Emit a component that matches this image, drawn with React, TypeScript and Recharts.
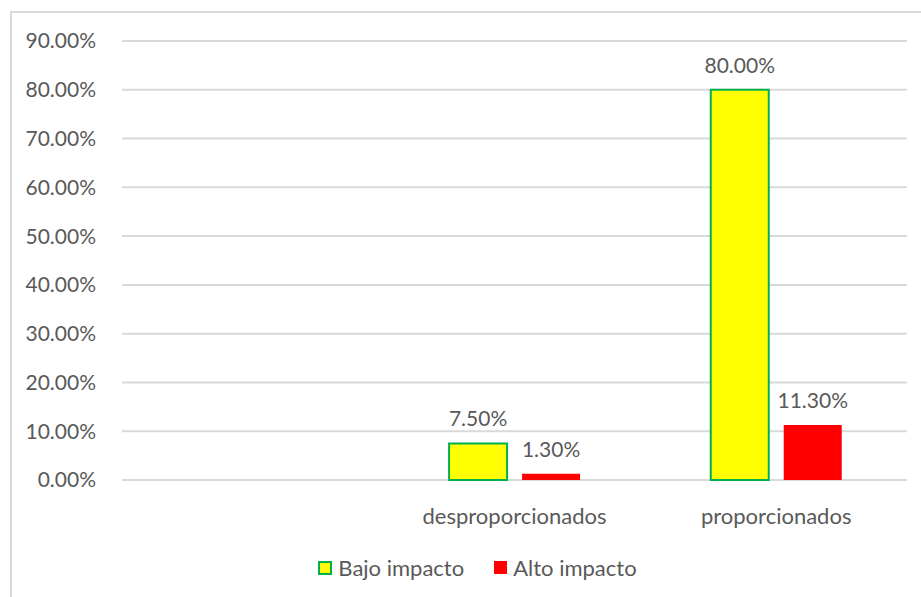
import React from 'react';
import { BarChart, Bar, XAxis, YAxis, CartesianGrid, Legend, LabelList } from 'recharts';

const categories = ['', 'desproporcionados', 'proporcionados'];
const bajoImpacto: (number | null)[] = [null, 7.5, 80.0];
const altoImpacto: (number | null)[] = [null, 1.3, 11.3];
const yTicks = [0, 10, 20, 30, 40, 50, 60, 70, 80, 90];

const FONT = 'Lato, "Open Sans", sans-serif';
const TEXT = '#595959';

const data = categories.map((name, i) => ({
  name,
  bajo: bajoImpacto[i],
  alto: altoImpacto[i],
}));

const pct = (v: any) => (v == null ? '' : `${Number(v).toFixed(2)}%`);

// Legend drawn by hand so the yellow swatch keeps its green border
const LegendContent = () => (
  <div style={{ display: 'flex', justifyContent: 'center', paddingLeft: 36, fontFamily: FONT, fontSize: 22, color: TEXT }}>
    <span style={{ display: 'flex', alignItems: 'center', marginRight: 30 }}>
      <span style={{ width: 10, height: 10, background: '#ffff00', border: '2px solid #00b050', marginRight: 6 }} />
      Bajo impacto
    </span>
    <span style={{ display: 'flex', alignItems: 'center' }}>
      <span style={{ width: 13, height: 13, background: '#ff0000', marginRight: 6 }} />
      Alto impacto
    </span>
  </div>
);

export default function App() {
  return (
    <div style={{ position: 'absolute', left: 0, top: 0, width: 921, height: 597, background: '#fff', overflow: 'hidden' }}>
      <div style={{ position: 'absolute', left: 10, top: 11, width: 911, height: 586, borderLeft: '2px solid #d9d9d9', borderTop: '2px solid #d9d9d9', boxSizing: 'border-box' }}>
        <BarChart
          width={909}
          height={584}
          data={data}
          margin={{ top: 28, right: 14, bottom: 0, left: 0 }}
          barCategoryGap="25%"
          barGap={15}
        >
          <CartesianGrid vertical={false} stroke="#d9d9d9" strokeWidth={2} />
          <XAxis
            dataKey="name"
            axisLine={false}
            tickLine={false}
            height={90}
            tickMargin={22}
            tick={{ fill: TEXT, fontSize: 22, fontFamily: FONT }}
          />
          <YAxis
            width={110}
            domain={[0, 90]}
            ticks={yTicks}
            tickFormatter={pct}
            axisLine={false}
            tickLine={false}
            tickMargin={20}
            tick={{ fill: TEXT, fontSize: 21, fontFamily: FONT }}
          />
          <Legend verticalAlign="bottom" content={<LegendContent />} wrapperStyle={{ bottom: 16 }} />
          <Bar dataKey="bajo" name="Bajo impacto" fill="#ffff00" stroke="#00b050" strokeWidth={2} isAnimationActive={false}>
            <LabelList dataKey="bajo" position="top" offset={17} formatter={pct} fill={TEXT} fontSize={21} fontFamily={FONT} />
          </Bar>
          <Bar dataKey="alto" name="Alto impacto" fill="#ff0000" isAnimationActive={false}>
            <LabelList dataKey="alto" position="top" offset={17} formatter={pct} fill={TEXT} fontSize={21} fontFamily={FONT} />
          </Bar>
        </BarChart>
      </div>
    </div>
  );
}
